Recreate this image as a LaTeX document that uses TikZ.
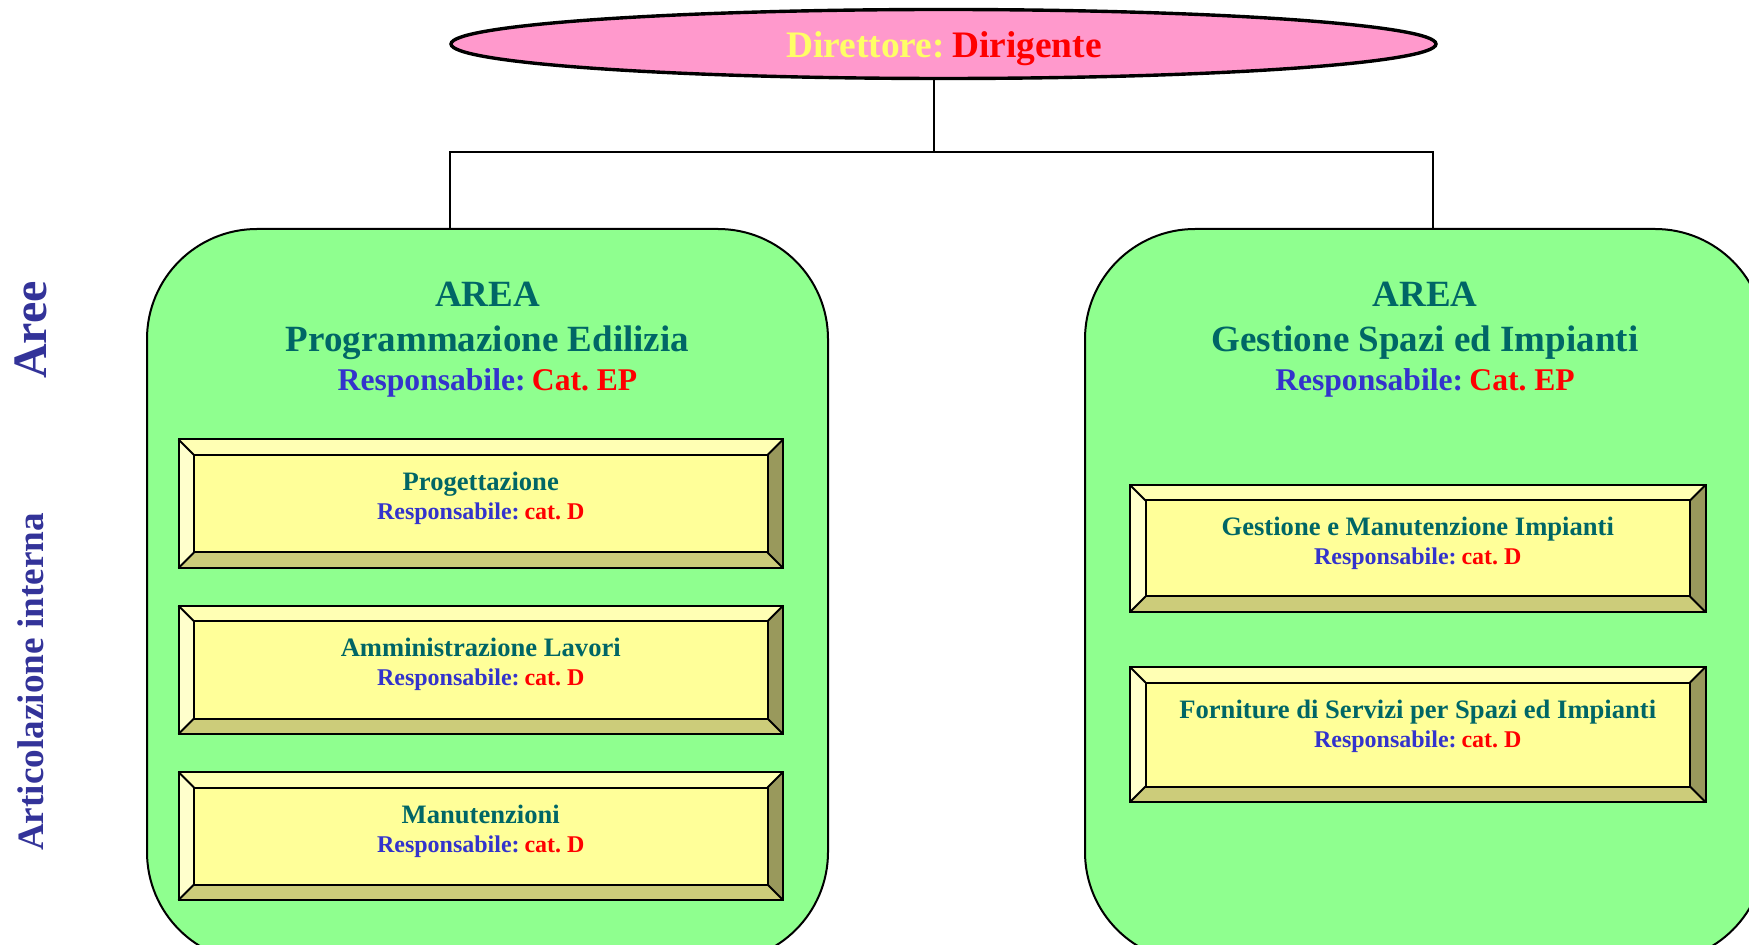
\documentclass[tikz,border=0pt]{standalone}
\usepackage{fontspec}
\setmainfont{Liberation Serif}
\usetikzlibrary{shapes.geometric}
\frenchspacing
\definecolor{areagreen}{RGB}{143,255,143}
\definecolor{pinkfill}{RGB}{255,153,204}
\definecolor{dirtext}{RGB}{255,255,102}
\definecolor{teal}{RGB}{0,102,102}
\definecolor{respblue}{RGB}{51,51,204}
\definecolor{sideblue}{RGB}{51,51,153}
\definecolor{facey}{RGB}{255,255,153}
\definecolor{bvtopc}{RGB}{255,255,180}
\definecolor{bvleftc}{RGB}{255,255,204}
\definecolor{bvbottomc}{RGB}{204,204,122}
\definecolor{bvrightc}{RGB}{153,153,92}
\tikzset{
  dirnode/.style={ellipse, draw=black, line width=1.7pt, fill=pinkfill,
    minimum width=492.5pt, minimum height=34.5pt, inner sep=0pt},
  areanode/.style={draw=black, line width=1pt, fill=areagreen,
    rounded corners=55pt, inner sep=0pt, outer sep=0pt},
  conn/.style={draw=black, line width=0.8pt},
  bvline/.style={draw=black, line width=1pt},
  bvface/.style={draw=black, line width=1pt, fill=facey, inner sep=0pt, outer sep=0pt},
  headfont/.style={font=\bfseries\fontsize{18.5}{22}\selectfont, text=teal, inner sep=0pt},
  headresp/.style={font=\bfseries\fontsize{15.8}{19}\selectfont, inner sep=0pt},
  titlefont/.style={font=\bfseries\fontsize{13.3}{15}\selectfont, text=teal, inner sep=0pt},
  respfont/.style={font=\bfseries\fontsize{12}{14}\selectfont, inner sep=0pt},
  sidefont/.style={font=\bfseries\fontsize{18.6}{22}\selectfont, text=sideblue, rotate=90},
}
\newcommand\bvbox[7]{%
  \fill[bvtopc] (#2,#3) -- (#4,#3) -- ({#4-15.5},{#3+15.5}) -- ({#2+15.5},{#3+15.5}) -- cycle;
  \fill[bvleftc] (#2,#3) -- ({#2+15.5},{#3+15.5}) -- ({#2+15.5},{#5-15.5}) -- (#2,#5) -- cycle;
  \fill[bvbottomc] (#2,#5) -- ({#2+15.5},{#5-15.5}) -- ({#4-15.5},{#5-15.5}) -- (#4,#5) -- cycle;
  \fill[bvrightc] (#4,#3) -- (#4,#5) -- ({#4-15.5},{#5-15.5}) -- ({#4-15.5},{#3+15.5}) -- cycle;
  \node[bvface, minimum width={(#4-#2-31)*0.5pt}, minimum height={(#5-#3-31)*0.5pt}]
    (#1) at ({(#2+#4)/2},{(#3+#5)/2}) {};
  \draw[bvline] (#2,#3) rectangle (#4,#5);
  \draw[bvline] (#2,#3) -- (#1.north west);
  \draw[bvline] (#4,#3) -- (#1.north east);
  \draw[bvline] (#2,#5) -- (#1.south west);
  \draw[bvline] (#4,#5) -- (#1.south east);
  \node[titlefont, anchor=base] (#1a) at ({(#2+#4)/2},{#3+51}) {#6};
  \node[respfont, anchor=base] (#1b) at ({(#2+#4)/2},{#3+80})
    {\textcolor{respblue}{Responsabile:}\hspace{0.2em}\textcolor{red}{#7}};
}
\begin{document}
\begin{tikzpicture}[x=0.5pt, y=-0.5pt]
\useasboundingbox (0,0) rectangle (1749,945);

% areas
\node[areanode, minimum width=340.5pt, minimum height=366.5pt] (area1) at (487.5,595.5) {};
\node[areanode, minimum width=340pt, minimum height=366.5pt] (area2) at (1425,595.5) {};

% director
\node[dirnode] (dir) at (943.5,44) {};
\node[font=\bfseries\fontsize{18.7}{22}\selectfont, anchor=base, inner sep=0pt] (dirt) at (944,58)
  {\textcolor{dirtext}{Direttore:}\hspace{0.2em}\textcolor{red}{Dirigente}};

% connectors
\coordinate (j) at (934,152);
\coordinate (lt) at (450,229);
\coordinate (rt) at (1433,229);
\draw[conn] (dir.south -| j) -- (j);
\draw[conn] (area1.north -| lt) |- (j) -| (area2.north -| rt);

% area headings
\node[headfont, anchor=base] (h1a) at (487.5,307) {AREA};
\node[headfont, anchor=base] (h1b) at (487.5,352) {Programmazione Edilizia};
\node[headresp, anchor=base] (h1c) at (487.5,391) {\textcolor{respblue}{Responsabile:}\hspace{0.2em}\textcolor{red}{Cat. EP}};
\node[headfont, anchor=base] (h2a) at (1425,307) {AREA};
\node[headfont, anchor=base] (h2b) at (1425,352) {Gestione Spazi ed Impianti};
\node[headresp, anchor=base] (h2c) at (1425,391) {\textcolor{respblue}{Responsabile:}\hspace{0.2em}\textcolor{red}{Cat. EP}};

% sub-units
\bvbox{b1}{178.5}{439.5}{783}{568}{Progettazione}{cat. D}
\bvbox{b2}{178.5}{605.7}{783}{734}{Amministrazione Lavori}{cat. D}
\bvbox{b3}{178.5}{772}{783}{900}{Manutenzioni}{cat. D}
\bvbox{r1}{1130}{485}{1705.5}{612}{Gestione e Manutenzione Impianti}{cat. D}
\bvbox{r2}{1130}{667}{1705.5}{802}{Forniture di Servizi per Spazi ed Impianti}{cat. D}

% side labels
\node[sidefont, font=\bfseries\fontsize{24}{28}\selectfont] (aree) at (31,330) {Aree};
\node[sidefont] (artic) at (31,682) {Articolazione interna};
\end{tikzpicture}
\end{document}
